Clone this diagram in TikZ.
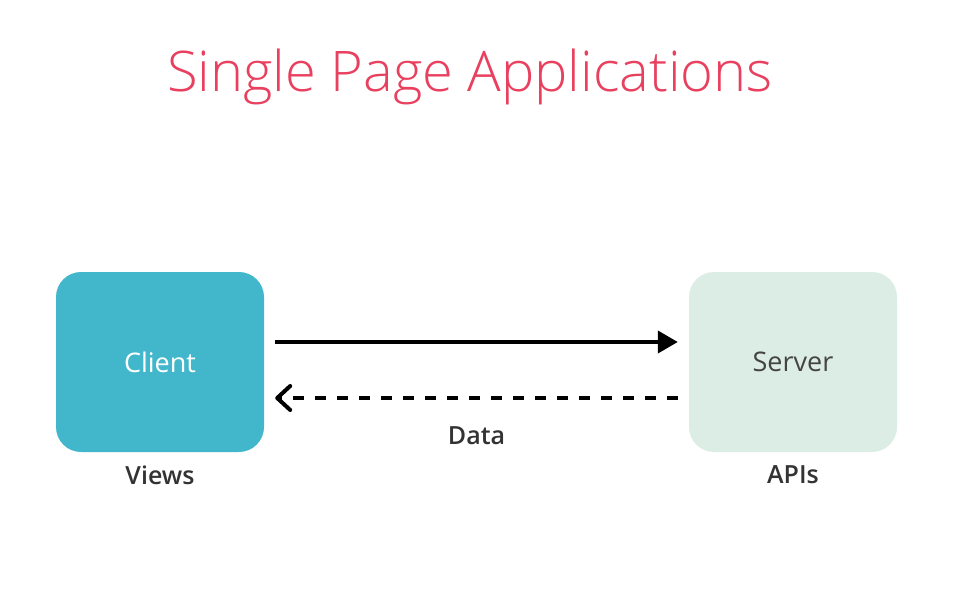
\documentclass[tikz,border=0pt]{standalone}
\usepackage{fontspec}
\setmainfont{Open Sans}
\newfontfamily\titlefont{Open Sans Light}
\newfontfamily\boldfont{Open Sans Semibold}
\usetikzlibrary{arrows.meta}
\definecolor{titlered}{HTML}{E8405E}
\definecolor{clientblue}{HTML}{42B7CC}
\definecolor{servermint}{HTML}{DCEDE6}
\definecolor{labelgrey}{HTML}{333333}
\definecolor{servertext}{HTML}{444444}
\tikzset{
  box/.style={rounded corners=25pt, minimum width=208pt, minimum height=180pt, inner sep=0pt},
  caption/.style={font=\boldfont\fontsize{25}{30}\selectfont, text=labelgrey, inner sep=0pt},
  link/.style={line width=4pt, shorten <=11pt, shorten >=11pt},
}
\begin{document}
\begin{tikzpicture}[x=1pt,y=-1pt]
  \useasboundingbox[fill=white] (0,0) rectangle (956,607);
  \node (title) at (470,77) [text=titlered, font=\titlefont\fontsize{56}{62}\selectfont] {Single Page Applications};
  \node (client) at (160,362) [box, fill=clientblue, text=white, font=\fontsize{27}{32}\selectfont] {Client};
  \node (server) at (793,362) [box, fill=servermint, text=servertext, font=\fontsize{27}{32}\selectfont] {Server};
  \node (views) at (160,475) [caption] {Views};
  \node (apis) at (793,475) [caption] {APIs};
  \draw[link, -{Triangle[length=20pt,width=22pt]}] ([yshift=20pt]client.east) -- ([yshift=20pt]server.west);
  \draw[link, dash pattern=on 11pt off 11pt, -{Straight Barb[length=13pt,width=24pt,line cap=round,line join=round]}]
    ([yshift=-36pt]server.west) -- ([yshift=-36pt]client.east)
    node[midway, below=27pt, caption] (data) {Data};
\end{tikzpicture}
\end{document}
